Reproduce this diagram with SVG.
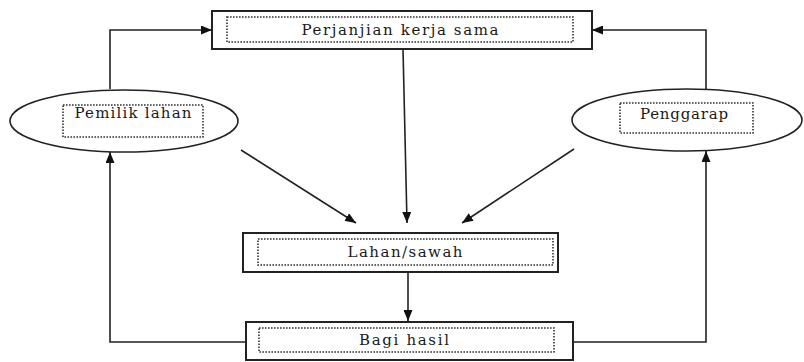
<svg xmlns="http://www.w3.org/2000/svg" width="804" height="362" viewBox="0 0 804 362">
<style>
.box{fill:#fff;stroke:#222;stroke-width:2}
.ell{fill:#fff;stroke:#222;stroke-width:1.6}
.dot{fill:none;stroke:#333;stroke-width:1.6;stroke-dasharray:1.6 1.4}
.lbl{font-family:"DejaVu Serif","Liberation Serif",serif;font-size:15px;fill:#1a1a1a;text-anchor:middle}
.con{fill:none;stroke:#222;stroke-width:1.6}
</style>
<defs>
<marker id="ah" viewBox="0 0 11 9" refX="11" refY="4.5" markerWidth="11" markerHeight="9" markerUnits="userSpaceOnUse" orient="auto">
<path d="M0,0 L11,4.5 L0,9 Z" fill="#111"/>
</marker>
</defs>
<rect width="804" height="362" fill="#fff"/>
<g id="connectors">
<path class="con" d="M110,89 V30 H212" marker-end="url(#ah)"/>
<path class="con" d="M706,89 V30 H592" marker-end="url(#ah)"/>
<path class="con" d="M403,49 L407,223" marker-end="url(#ah)"/>
<path class="con" d="M241,150 L356,223" marker-end="url(#ah)"/>
<path class="con" d="M574,149 L462,223" marker-end="url(#ah)"/>
<path class="con" d="M408,272 V321" marker-end="url(#ah)"/>
<path class="con" d="M246,342 H110 V152" marker-end="url(#ah)"/>
<path class="con" d="M573,342 H706 V151" marker-end="url(#ah)"/>
</g>
<g id="perjanjian">
<rect class="box" x="212" y="11" width="380" height="38"/>
<rect class="dot" x="227" y="17" width="346" height="25"/>
<text class="lbl" x="400" y="35" textLength="197" lengthAdjust="spacing">Perjanjian kerja sama</text>
</g>
<g id="pemilik">
<ellipse class="ell" cx="124" cy="121" rx="114" ry="31"/>
<rect class="dot" x="63" y="105" width="140" height="32"/>
<text class="lbl" x="133" y="118" textLength="117" lengthAdjust="spacing">Pemilik lahan</text>
</g>
<g id="penggarap">
<ellipse class="ell" cx="687" cy="120" rx="115" ry="31"/>
<rect class="dot" x="620" y="103" width="133" height="30"/>
<text class="lbl" x="684" y="119" textLength="88" lengthAdjust="spacing">Penggarap</text>
</g>
<g id="lahan">
<rect class="box" x="243" y="233" width="315" height="39"/>
<rect class="dot" x="258" y="239" width="295" height="26"/>
<text class="lbl" x="405" y="257" textLength="115" lengthAdjust="spacing">Lahan/sawah</text>
</g>
<g id="bagi">
<rect class="box" x="246" y="322" width="327" height="38"/>
<rect class="dot" x="259" y="328" width="295" height="24"/>
<text class="lbl" x="404" y="345" textLength="90" lengthAdjust="spacing">Bagi hasil</text>
</g>
</svg>
